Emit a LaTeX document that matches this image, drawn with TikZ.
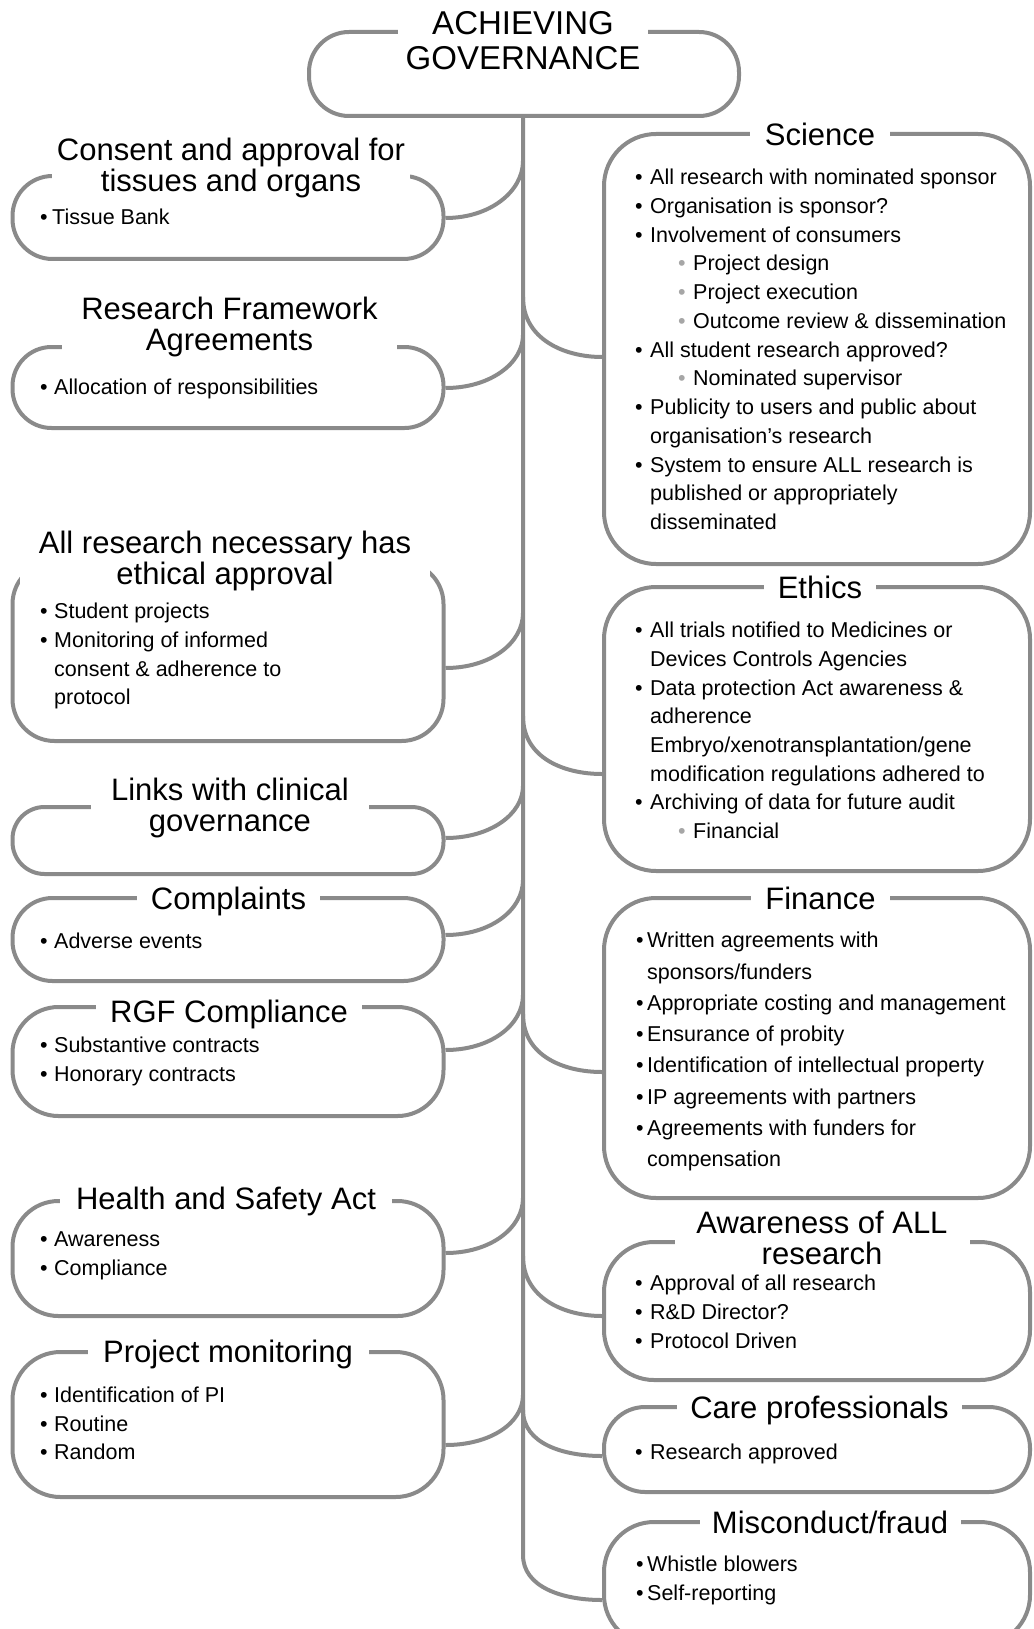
\documentclass[tikz,border=0pt]{standalone}
\usepackage{fontspec}
\setmainfont{Liberation Sans}
\definecolor{edgegray}{HTML}{8A8A8A}
\definecolor{subdot}{HTML}{A6A6A6}
% first-line strut so that body nodes have a fixed top
\newcommand\firstline{\rule{0pt}{17pt}}
\newcommand\bp[1][14pt]{\makebox[#1][l]{•}}
\newcommand\ind[1][14pt]{\hspace*{#1}}
\newcommand\subbp{\hspace*{43pt}\makebox[15pt][l]{\textcolor{subdot}{•}}}

\begin{document}
\begin{tikzpicture}[x=1pt,y=-1pt,
  box/.style={draw=edgegray, line width=4pt, rounded corners=#1, inner sep=0pt},
  link/.style={draw=edgegray, line width=4pt},
  heading/.style={fill=white, anchor=north, inner xsep=0pt, inner ysep=3pt, align=center,
                  font=\fontsize{31}{31}\selectfont},
  body/.style={anchor=north west, inner sep=0pt, align=left,
               font=\fontsize{21.5}{28.8}\selectfont}
]
\useasboundingbox (0,0) rectangle (1033,1629);
\clip (0,0) rectangle (1033,1629);

% ---------- boxes ----------
\node[box=40pt, minimum width=430pt, minimum height=84pt] (top) at (524,74) {};

\node[box=40pt, minimum width=431pt, minimum height=83pt]  (l1) at (228,217.5) {};
\node[box=39pt, minimum width=431pt, minimum height=81pt]  (l2) at (228,387.5) {};
\node[box=42pt, minimum width=431pt, minimum height=179pt] (l3) at (228,651.5) {};
\node[box=32pt, minimum width=431pt, minimum height=67pt]  (l4) at (228,840.5) {};
\node[box=40pt, minimum width=431pt, minimum height=83pt]  (l5) at (228,939.5) {};
\node[box=46pt, minimum width=431pt, minimum height=109pt] (l6) at (228,1061.5) {};
\node[box=46pt, minimum width=431pt, minimum height=115pt] (l7) at (228,1258.5) {};
\node[box=48pt, minimum width=431pt, minimum height=145pt] (l8) at (228,1424.5) {};

\node[box=52pt, minimum width=426pt, minimum height=430pt] (r1) at (817,349) {};
\node[box=52pt, minimum width=426pt, minimum height=284pt] (r2) at (817,729) {};
\node[box=52pt, minimum width=426pt, minimum height=300pt] (r3) at (817,1048) {};
\node[box=50pt, minimum width=426pt, minimum height=138pt] (r4) at (817,1311) {};
\node[box=41pt, minimum width=426pt, minimum height=85pt]  (r5) at (817,1449.5) {};
\node[box=50pt, minimum width=426pt, minimum height=123pt] (r6) at (817,1583.5) {};

% ---------- trunk and branches ----------
\coordinate (trunkend) at (523,1555);
\draw[link] (top.south -| trunkend) -- (trunkend)
  .. controls +(0,32) and +(-40,0) .. (r6.west |- 0,1600);

\coordinate (jl1) at (523,161);
\coordinate (jl2) at (523,335);
\coordinate (jl3) at (523,613);
\coordinate (jl4) at (523,786);
\coordinate (jl5) at (523,880);
\coordinate (jl6) at (523,995);
\coordinate (jl7) at (523,1198);
\coordinate (jl8) at (523,1395);
\draw[link] (jl1) .. controls +(0,30) and +(45,0) .. (l1.east |- 0,218);
\draw[link] (jl2) .. controls +(0,28) and +(45,0) .. (l2.east |- 0,388);
\draw[link] (jl3) .. controls +(0,30) and +(45,0) .. (l3.east |- 0,668);
\draw[link] (jl4) .. controls +(0,28) and +(45,0) .. (l4.east |- 0,838);
\draw[link] (jl5) .. controls +(0,30) and +(45,0) .. (l5.east |- 0,935);
\draw[link] (jl6) .. controls +(0,30) and +(45,0) .. (l6.east |- 0,1050);
\draw[link] (jl7) .. controls +(0,30) and +(45,0) .. (l7.east |- 0,1253);
\draw[link] (jl8) .. controls +(0,28) and +(45,0) .. (l8.east |- 0,1445);

\coordinate (jr1) at (523,297);
\coordinate (jr2) at (523,716);
\coordinate (jr3) at (523,1014);
\coordinate (jr4) at (523,1256);
\coordinate (jr5) at (523,1410);
\draw[link] (jr1) .. controls +(0,42) and +(-38,0) .. (r1.west |- 0,357);
\draw[link] (jr2) .. controls +(0,42) and +(-38,0) .. (r2.west |- 0,774);
\draw[link] (jr3) .. controls +(0,42) and +(-38,0) .. (r3.west |- 0,1072);
\draw[link] (jr4) .. controls +(0,42) and +(-38,0) .. (r4.west |- 0,1316);
\draw[link] (jr5) .. controls +(0,34) and +(-38,0) .. (r5.west |- 0,1456);

% ---------- headings (white fill opens the border) ----------
\node[heading, minimum width=250pt, font=\fontsize{33}{35}\selectfont] (toptitle) at (523,6)
  {\rule{0pt}{25pt}ACHIEVING\\GOVERNANCE};

\node[heading, minimum width=358pt] (l1t) at (231,134) {\rule{0pt}{23pt}Consent and approval for\\tissues and organs};
\node[heading, minimum width=335pt] (l2t) at (229.5,293) {\rule{0pt}{23pt}Research Framework\\Agreements};
\node[heading, minimum width=410pt] (l3t) at (225,527) {\rule{0pt}{23pt}All research necessary has\\ethical approval};
\node[heading, minimum width=278pt] (l4t) at (230,774) {\rule{0pt}{23pt}Links with clinical\\governance};
\node[heading, minimum width=183pt] (l5t) at (228.5,883) {\rule{0pt}{23pt}Complaints};
\node[heading, minimum width=266pt] (l6t) at (229,996) {\rule{0pt}{23pt}RGF Compliance};
\node[heading, minimum width=332pt] (l7t) at (226,1183) {\rule{0pt}{23pt}Health and Safety Act};
\node[heading, minimum width=281pt] (l8t) at (228,1336) {\rule{0pt}{23pt}Project monitoring};

\node[heading, minimum width=140pt] (r1t) at (820,119) {\rule{0pt}{23pt}Science};
\node[heading, minimum width=112pt] (r2t) at (820,572) {\rule{0pt}{23pt}Ethics};
\node[heading, minimum width=139pt] (r3t) at (820.5,883) {\rule{0pt}{23pt}Finance};
\node[heading, minimum width=295pt] (r4t) at (822,1207) {\rule{0pt}{23pt}Awareness of ALL\\research};
\node[heading, minimum width=285pt] (r5t) at (819.5,1392) {\rule{0pt}{23pt}Care professionals};
\node[heading, minimum width=261pt] (r6t) at (830,1507) {\rule{0pt}{23pt}Misconduct/fraud};

% ---------- bullet lists ----------
\node[body] (l1b) at (40,207.5) {\firstline\bp[12pt]Tissue Bank};
\node[body] (l2b) at (40,377.5) {\firstline\bp{}Allocation of responsibilities};
\node[body, font=\fontsize{21.5}{28.7}\selectfont] (l3b) at (40,601.5)
  {\firstline\bp{}Student projects\\
   \bp{}Monitoring of informed\\
   \ind{}consent \& adherence to\\
   \ind{}protocol};
\node[body] (l5b) at (40,931) {\firstline\bp{}Adverse events};
\node[body] (l6b) at (40,1035) {\firstline\bp{}Substantive contracts\\\bp{}Honorary contracts};
\node[body] (l7b) at (40,1229) {\firstline\bp{}Awareness\\\bp{}Compliance};
\node[body] (l8b) at (40,1385) {\firstline\bp{}Identification of PI\\\bp{}Routine\\\bp{}Random};

\node[body, font=\fontsize{21.5}{28.75}\selectfont] (r1b) at (635,167.5)
  {\firstline\bp[15pt]All research with nominated sponsor\\
   \bp[15pt]Organisation is sponsor?\\
   \bp[15pt]Involvement of consumers\\
   \subbp Project design\\
   \subbp Project execution\\
   \subbp Outcome review \& dissemination\\
   \bp[15pt]All student research approved?\\
   \subbp Nominated supervisor\\
   \bp[15pt]Publicity to users and public about\\
   \ind[15pt]organisation’s research\\
   \bp[15pt]System to ensure ALL research is\\
   \ind[15pt]published or appropriately\\
   \ind[15pt]disseminated};

\node[body, font=\fontsize{21.5}{28.7}\selectfont] (r2b) at (635,620.5)
  {\firstline\bp[15pt]All trials notified to Medicines or\\
   \ind[15pt]Devices Controls Agencies\\
   \bp[15pt]Data protection Act awareness \&\\
   \ind[15pt]adherence\\
   \ind[15pt]Embryo/xenotransplantation/gene\\
   \ind[15pt]modification regulations adhered to\\
   \bp[15pt]Archiving of data for future audit\\
   \subbp Financial};

\node[body, font=\fontsize{21.5}{31.3}\selectfont] (r3b) at (636,930.5)
  {\firstline\bp[11pt]Written agreements with\\
   \ind[11pt]sponsors/funders\\
   \bp[11pt]Appropriate costing and management\\
   \bp[11pt]Ensurance of probity\\
   \bp[11pt]Identification of intellectual property\\
   \bp[11pt]IP agreements with partners\\
   \bp[11pt]Agreements with funders for\\
   \ind[11pt]compensation};

\node[body, font=\fontsize{21.5}{29}\selectfont] (r4b) at (635,1273.5)
  {\firstline\bp[15pt]Approval of all research\\
   \bp[15pt]R\&D Director?\\
   \bp[15pt]Protocol Driven};
\node[body] (r5b) at (635,1442.5) {\firstline\bp[15pt]Research approved};
\node[body, font=\fontsize{21.5}{29}\selectfont] (r6b) at (636,1554.5)
  {\firstline\bp[11pt]Whistle blowers\\\bp[11pt]Self-reporting};

\end{tikzpicture}
\end{document}
